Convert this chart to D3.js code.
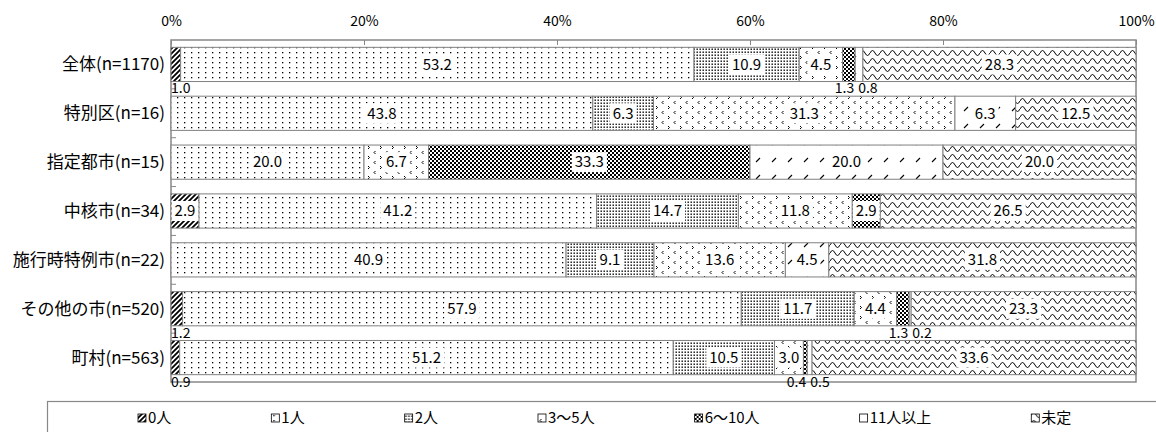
<!DOCTYPE html>
<html>
<head>
<meta charset="utf-8">
<script src="https://cdn.jsdelivr.net/npm/d3@7"></script>
<style>
  body { margin: 0; background: #fff; }
  text { font-family: "Noto Sans CJK JP", "DejaVu Sans", sans-serif; fill: #000; }
</style>
</head>
<body>
<div id="chart"></div>
<script>
// data
var categories = ["全体(n=1170)", "特別区(n=16)", "指定都市(n=15)", "中核市(n=34)",
                  "施行時特例市(n=22)", "その他の市(n=520)", "町村(n=563)"];
var seriesNames = ["0人", "1人", "2人", "3～5人", "6～10人", "11人以上", "未定"];
var s0 = [1.0, 0, 0, 2.9, 0, 1.2, 0.9];
var s1 = [53.2, 43.8, 20.0, 41.2, 40.9, 57.9, 51.2];
var s2 = [10.9, 6.3, 0, 14.7, 9.1, 11.7, 10.5];
var s3 = [4.5, 31.3, 6.7, 11.8, 13.6, 4.4, 3.0];
var s4 = [1.3, 0, 33.3, 2.9, 0, 1.3, 0.4];
var s5 = [0.8, 6.3, 20.0, 0, 4.5, 0.2, 0.5];
var s6 = [28.3, 12.5, 20.0, 26.5, 31.8, 23.3, 33.6];
var tickValues = [0, 20, 40, 60, 80, 100];

var allSeries = [s0, s1, s2, s3, s4, s5, s6];

var W = 1156, H = 432;
var svg = d3.select("#chart").append("svg")
    .attr("width", W).attr("height", H);

//<------ patterns ------>
var defs = svg.append("defs");
function pat(id, w, h) {
    var p = defs.append("pattern").attr("id", id)
        .attr("patternUnits", "userSpaceOnUse")
        .attr("width", w).attr("height", h);
    p.append("rect").attr("width", w).attr("height", h).attr("fill", "#fff");
    return p;
}
// 0人 heavy diagonal
var p0 = pat("p0", 5, 5);
p0.append("path").attr("d", "M-1,6 L6,-1 M-1,1 L1,-1 M4,6 L6,4")
    .attr("stroke", "#000").attr("stroke-width", 1.8);
// 1人 sparse dots
var p1 = pat("p1", 7, 5);
p1.append("rect").attr("x", 2).attr("y", 2).attr("width", 1.3).attr("height", 1.3).attr("fill", "#000");
// 2人 dense dots
var p2 = pat("p2", 3, 3);
p2.append("rect").attr("x", 0.5).attr("y", 0.5).attr("width", 1.4).attr("height", 1.4).attr("fill", "#000");
// 3～5人 confetti
var p3 = pat("p3", 12, 10);
p3.append("path").attr("d", "M3.5,1 L2,2.5 L3.5,4 M8,6 L9.5,7.5 L8,9")
    .attr("stroke", "#000").attr("stroke-width", 1).attr("fill", "none");
// 6～10人 checker
var p4 = pat("p4", 4, 4);
p4.append("path").attr("d", "M0,0h2v2h-2z M2,2h2v2h-2z").attr("fill", "#000");
// 11人以上 short dashes
var p5 = pat("p5", 16, 17);
p5.append("path").attr("d", "M4,9 L8,5").attr("stroke", "#000").attr("stroke-width", 1.1);
// 未定 waves
var p6 = pat("p6", 10, 8);
p6.append("path").attr("d", "M0,5 Q2.5,0 5,5 T10,5")
    .attr("stroke", "#000").attr("stroke-width", 1).attr("fill", "none");
var fills = ["url(#p0)", "url(#p1)", "url(#p2)", "url(#p3)", "url(#p4)", "url(#p5)", "url(#p6)"];

//<------ scales ------>
var x = d3.scaleLinear().domain([0, 100]).range([171, 1136]);
var y = d3.scaleBand().domain(categories).range([40, 382])
    .paddingInner(0.3).paddingOuter(0.15);

// rows for d3.stack, normalised to 100%
var rows = categories.map(function(c, i) {
    var r = { cat: c };
    var sum = d3.sum(allSeries, function(s) { return s[i]; });
    seriesNames.forEach(function(k, j) { r[k] = allSeries[j][i] / sum * 100; r["raw" + j] = allSeries[j][i]; });
    return r;
});
var stacked = d3.stack().keys(seriesNames)(rows);

// frame
svg.append("rect").attr("x", 171).attr("y", 40).attr("width", 965).attr("height", 342)
    .attr("fill", "none").attr("stroke", "#888").attr("stroke-width", 1.5);

// top axis
var ax = svg.append("g").attr("transform", "translate(0,40)")
    .call(d3.axisTop(x).tickValues(tickValues).tickSize(-5).tickPadding(14)
        .tickFormat(function(d) { return d + "%"; }));
ax.select(".domain").remove();
ax.selectAll("line").attr("stroke", "#888");
ax.selectAll("text").style("font-size", "14px")
    .style("font-family", "'Noto Sans CJK JP', sans-serif");

// left ticks between bands
svg.append("g").selectAll("line")
    .data(d3.range(1, categories.length))
    .enter().append("line")
    .attr("x1", 171).attr("x2", 176)
    .attr("y1", function(i) { return 40 + i * y.step(); })
    .attr("y2", function(i) { return 40 + i * y.step(); })
    .attr("stroke", "#888");

// category labels
svg.append("g").selectAll("text")
    .data(categories).enter().append("text")
    .attr("x", 165)
    .attr("y", function(d) { return y(d) + y.bandwidth() / 2; })
    .attr("dy", "0.35em")
    .style("text-anchor", "end")
    .style("font-size", "17px")
    .text(function(d) { return d; });

//<------ bars ------>
var layers = svg.append("g").selectAll("g")
    .data(stacked).enter().append("g")
    .attr("fill", function(d, i) { return fills[i]; });

layers.selectAll("rect")
    .data(function(d) { return d.filter(function(e) { return e[1] - e[0] > 0; }); })
    .enter().append("rect")
    .attr("x", function(d) { return x(d[0]); })
    .attr("y", function(d) { return y(d.data.cat); })
    .attr("width", function(d) { return x(d[1]) - x(d[0]); })
    .attr("height", y.bandwidth())
    .attr("stroke", "#808080")
    .attr("stroke-width", 1);

//<------ labels ------>
var lbl = svg.append("g");
rows.forEach(function(r, i) {
    var top = y(r.cat), bh = y.bandwidth();
    var small = [];
    stacked.forEach(function(layer, j) {
        var seg = layer[i];
        var v = r["raw" + j];
        if (v <= 0) return;
        if (v >= 2.5) {
            var cx = (x(seg[0]) + x(seg[1])) / 2;
            var g = lbl.append("g");
            var t = g.append("text").attr("x", cx).attr("y", top + bh / 2)
                .attr("dy", "0.35em").style("text-anchor", "middle")
                .style("font-size", "15px").text(v.toFixed(1));
            var bb = t.node().getBBox();
            g.insert("rect", "text").attr("x", bb.x - 3).attr("y", top + bh / 2 - 10)
                .attr("width", bb.width + 6).attr("height", 20).attr("fill", "#fff");
        } else {
            small.push({ j: j, v: v, x0: x(seg[0]), x1: x(seg[1]) });
        }
    });
    var ty = top + bh + 7;
    for (var k = 0; k < small.length; k++) {
        var a = small[k], b = small[k + 1];
        if (b && b.j === a.j + 1) {
            lbl.append("text").attr("x", a.x1 - 1).attr("y", ty).attr("dy", "0.35em")
                .style("text-anchor", "end").style("font-size", "14px").text(a.v.toFixed(1));
            lbl.append("text").attr("x", a.x1 + 3).attr("y", ty).attr("dy", "0.35em")
                .style("text-anchor", "start").style("font-size", "14px").text(b.v.toFixed(1));
            k++;
        } else {
            var t2 = lbl.append("text").attr("y", ty).attr("dy", "0.35em")
                .style("font-size", "14px").text(a.v.toFixed(1));
            var w = t2.node().getComputedTextLength();
            t2.attr("x", Math.max((a.x0 + a.x1) / 2 - w / 2, 171)).style("text-anchor", "start");
        }
    }
});

//<------ legend ------>
svg.append("rect").attr("x", 47.5).attr("y", 401.5).attr("width", 1200).attr("height", 50)
    .attr("fill", "none").attr("stroke", "#888").attr("stroke-width", 1.2);
var lx = 138;
seriesNames.forEach(function(name, i) {
    var g = svg.append("g").attr("transform", "translate(" + lx + ",418)");
    g.append("rect").attr("x", 0).attr("y", -4).attr("width", 8).attr("height", 8)
        .attr("fill", fills[i]).attr("stroke", "#000").attr("stroke-width", 0.8);
    var t = g.append("text").attr("x", 10).attr("dy", "0.35em")
        .style("font-size", "15px").text(name);
    lx += 10 + t.node().getComputedTextLength() + 100;
});
</script>
</body>
</html>
